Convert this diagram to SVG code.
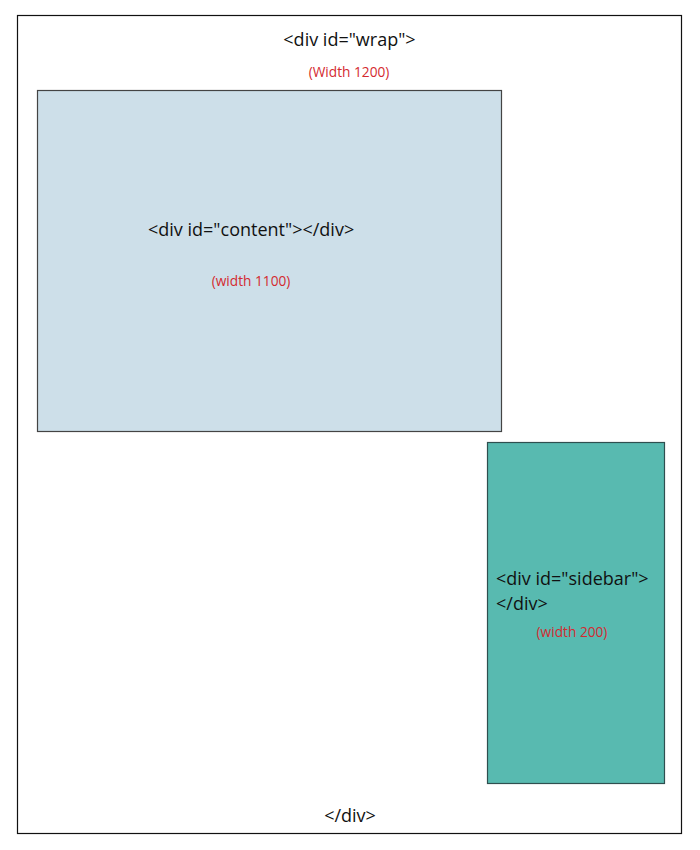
<svg xmlns="http://www.w3.org/2000/svg" width="700" height="850" viewBox="0 0 700 850">
<style>
.t{font-family:"Open Sans","Noto Sans",sans-serif;font-size:18px;fill:#111}
.r{font-family:"Open Sans","Noto Sans",sans-serif;font-size:13.7px;fill:#d42a30}
</style>
<rect x="0" y="0" width="700" height="850" fill="#fff"/>
<g id="wrap">
<rect x="17.5" y="15.5" width="664" height="818" fill="#fff" stroke="#111" stroke-width="1.2"/>
<text class="t" x="349.5" y="46" text-anchor="middle">&lt;div id="wrap"&gt;</text>
<text class="r" x="349" y="77" text-anchor="middle">(Width 1200)</text>
<text class="t" x="350" y="822" text-anchor="middle">&lt;/div&gt;</text>
</g>
<g id="content">
<rect x="37.5" y="90.5" width="464" height="341" fill="#cddfe9" stroke="#444" stroke-width="1.2"/>
<text class="t" x="148" y="236">&lt;div id="content"&gt;&lt;/div&gt;</text>
<text class="r" x="251" y="286" text-anchor="middle">(width 1100)</text>
</g>
<g id="sidebar">
<rect x="487.5" y="442.5" width="177" height="341" fill="#58bab0" stroke="#2f4f4f" stroke-width="1.2"/>
<text class="t" x="496" y="585">&lt;div id="sidebar"&gt;</text>
<text class="t" x="496" y="610">&lt;/div&gt;</text>
<text class="r" x="572" y="637" text-anchor="middle">(width 200)</text>
</g>
<g id="connectors"/>
</svg>
